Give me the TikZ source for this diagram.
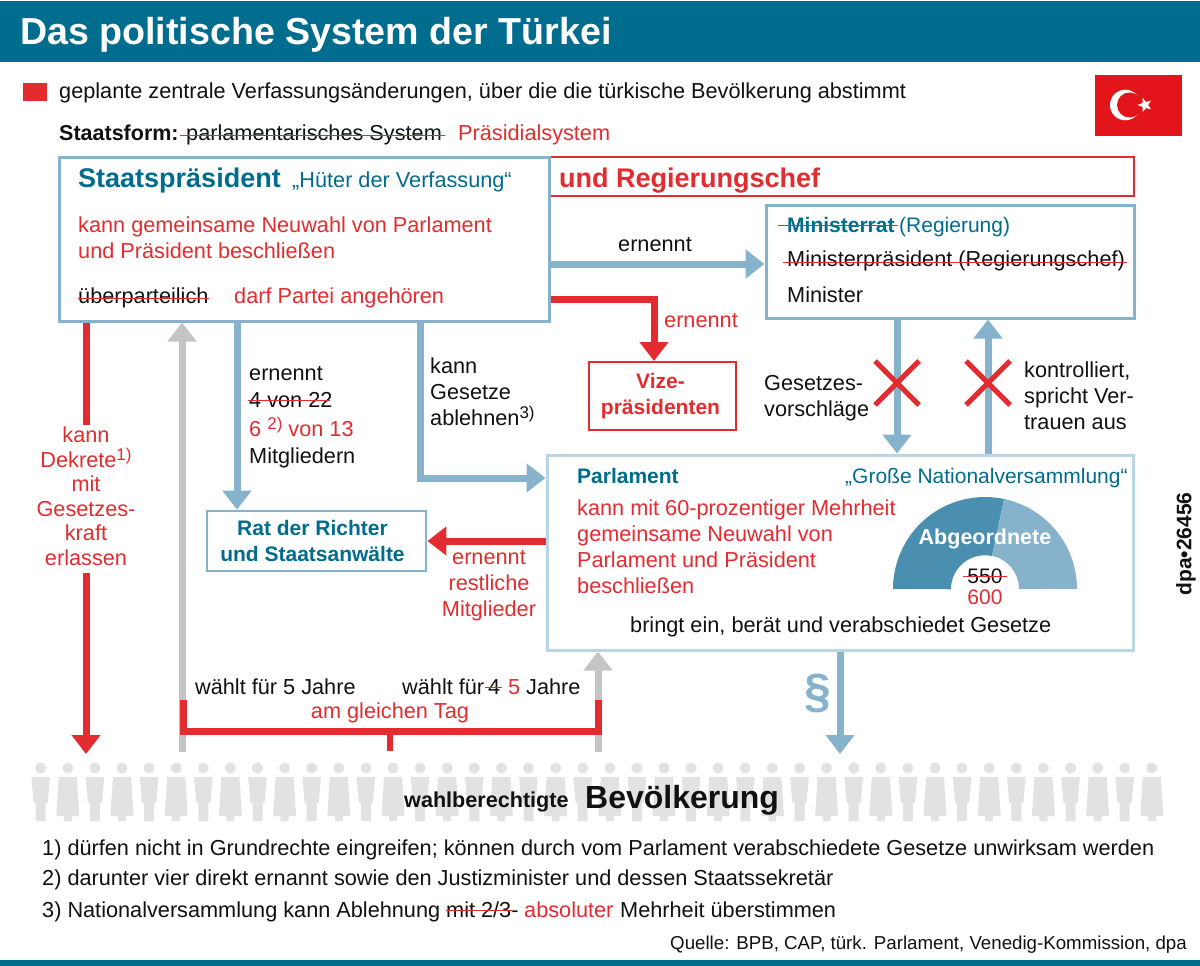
\documentclass[tikz,border=0pt]{standalone}
\usepackage{fontspec}
\setmainfont{Liberation Sans}
\usetikzlibrary{arrows.meta,shapes.geometric}
\definecolor{teal}{HTML}{006C8E}
\definecolor{rd}{HTML}{E32C30}
\definecolor{lb}{HTML}{86B3CB}
\definecolor{llb}{HTML}{B8D6E3}
\definecolor{gr}{HTML}{C4C4C4}
\definecolor{ink}{HTML}{111111}
\definecolor{flagred}{HTML}{E3151A}
\definecolor{domed}{HTML}{4A8FB0}
\definecolor{peop}{HTML}{E2E2E2}
\newcommand{\fsz}[1]{\fontsize{#1}{26}\selectfont}
\newcommand{\supr}[1]{\raisebox{7pt}{\fontsize{17}{17}\selectfont #1}}
\tikzset{
  x=1pt,y=-1pt,
  lab/.style={anchor=base west,inner sep=0pt,text=ink,font=\fsz{21.7}},
  redl/.style={lab,text=rd},
  tealb/.style={lab,text=teal,font=\fsz{21}\bfseries},
  ctr/.style={anchor=base,inner sep=0pt,align=center},
  strike/.style={draw=rd,line width=1.4pt},
  bluebox/.style={draw=lb,line width=3pt,fill=white,inner sep=0pt},
  ar/.style={line width=7pt,-{Triangle[width=28pt,length=19pt]}},
  bluearr/.style={ar,draw=lb},
  redarr/.style={ar,draw=rd},
  grayarr/.style={ar,draw=gr},
  crossm/.style={draw=rd,line width=5pt},
}
\begin{document}
\begin{tikzpicture}
\useasboundingbox (0,0) rectangle (1200,966);
\fill[white] (0,0) rectangle (1200,966);
% bars
\fill[teal] (0,1) rectangle (1200,62);
\fill[teal] (0,960) rectangle (1200,966);
\node[lab,text=white,font=\fsz{37.6}\bfseries] (title) at (20,45) {Das politische System der Türkei};
% legend
\fill[rd] (23,83) rectangle (47,101);
\node[lab] (leg) at (59,99) {geplante zentrale Verfassungsänderungen, über die die türkische Bevölkerung abstimmt};
% flag
\fill[flagred] (1095,75) rectangle (1182,136);
\fill[white] (1125.3,105) circle[radius=15.3];
\fill[flagred] (1129.5,105) circle[radius=12.5];
\node[star,star points=5,star point ratio=2.4,fill=white,inner sep=0pt,minimum size=15pt,shape border rotate=90] (flagstar) at (1145,105) {};
% Staatsform
\node[lab,font=\fsz{21.5}\bfseries] (sf) at (59,140) {Staatsform:};
\node[lab] (parl) at (186,140) {parlamentarisches System};
\draw[strike] ([xshift=-6pt,yshift=-1pt]parl.west) -- ([xshift=3pt,yshift=-1pt]parl.east);
\node[redl] (praes) at (458,140) {Präsidialsystem};
% boxes
\node[draw=rd,line width=1.5pt,fill=white,minimum width=585pt,minimum height=39pt,inner sep=0pt] (rc) at (841.5,176.5) {};
\node[bluebox,minimum width=490pt,minimum height=164pt] (sp) at (304,239) {};
\node[bluebox,minimum width=368pt,minimum height=113pt] (mr) at (950,261.5) {};
\node[draw=rd,line width=2pt,fill=white,minimum width=147pt,minimum height=68pt,inner sep=0pt] (vize) at (662.5,396) {};
\node[draw=llb,line width=3pt,fill=white,minimum width=586pt,minimum height=195pt,inner sep=0pt] (pa) at (840,552.5) {};
\node[draw=lb,line width=2.8pt,fill=white,minimum width=219pt,minimum height=60pt,inner sep=0pt] (rat) at (316.5,541) {};
% Staatspraesident text
\node[lab,text=teal,font=\fsz{27}\bfseries] (spt) at (78,187) {Staatspräsident};
\node[lab,text=teal] (huet) at (292,187) {„Hüter der Verfassung“};
\node[redl] (sp1) at (78,232) {kann gemeinsame Neuwahl von Parlament};
\node[redl] (sp2) at (78,258) {und Präsident beschließen};
\node[lab] (ueb) at (78,303) {überparteilich};
\draw[strike] ([yshift=-1pt]ueb.west) -- ([yshift=-1pt]ueb.east);
\node[redl] (darf) at (234,303) {darf Partei angehören};
\node[lab,text=rd,font=\fsz{27}\bfseries] (urc) at (559,187) {und Regierungschef};
% Ministerrat text
\node[tealb] (mrt) at (787,232) {Ministerrat};
\draw[strike] ([xshift=-9pt,yshift=-1pt]mrt.west) -- ([xshift=3pt,yshift=-1pt]mrt.east);
\node[lab,text=teal,font=\fsz{21}] (reg) at (899,232) {(Regierung)};
\node[lab] (mp) at (787,266) {Ministerpräsident (Regierungschef)};
\draw[strike] ([xshift=-4pt,yshift=-2pt]mp.west) -- ([xshift=2pt,yshift=-2pt]mp.east);
\node[lab] (mi) at (787,302) {Minister};
% Vize
\node[ctr,text=rd,font=\fsz{21}\bfseries,anchor=center] (vt) at ([xshift=-2pt]vize.center) {Vize-\\präsidenten};
% labels
\node[lab] (ern1) at (618,251) {ernennt};
\node[redl] (ern2) at (664,327) {ernennt};
\node[lab,align=left,anchor=west] (gv) at (764,398) {Gesetzes-\\vorschläge};
\node[lab,align=left,anchor=west] (ko) at (1024,396) {kontrolliert,\\spricht Ver-\\trauen aus};
\node[lab] (e3) at (249,380) {ernennt};
\node[lab] (e4) at (249,407) {4 von 22};
\draw[strike] ([xshift=-1pt,yshift=-1pt]e4.west) -- ([xshift=-3pt,yshift=-1pt]e4.east);
\node[redl] (e5) at (249,436) {6 \supr{2)} von 13};
\node[lab] (e6) at (249,463) {Mitgliedern};
\node[lab,align=left,anchor=west] (ge) at (430,392) {kann\\Gesetze\\ablehnen\supr{3)}};
% Dekrete
\node[lab,text=rd,align=center,anchor=center,font=\fontsize{21.7}{24.5}\selectfont] (dk) at (86,496) {kann\\Dekrete\supr{1)}\\mit\\Gesetzes-\\kraft\\erlassen};
% Rat
\node[ctr,text=teal,font=\fsz{21}\bfseries,anchor=center] (ratt) at ([xshift=-4pt]rat.center) {Rat der Richter\\und Staatsanwälte};
\node[ctr,text=rd,font=\fsz{21.7},anchor=center] (rest) at (489,586) {ernennt\\restliche\\Mitglieder};
% Parlament
\node[tealb] (pat) at (577,483) {Parlament};
\node[lab,text=teal,font=\fsz{21}] (gn) at (845,483) {„Große Nationalversammlung“};
\node[lab,text=rd,align=left,anchor=west] (pa1) at (577,547) {kann mit 60-prozentiger Mehrheit\\gemeinsame Neuwahl von\\Parlament und Präsident\\beschließen};
\node[lab] (bg) at (630,632) {bringt ein, berät und verabschiedet Gesetze};
% dome
\fill[domed] (893,589) arc[radius=92,start angle=180,end angle=282] -- (992,556) arc[radius=34,start angle=282,end angle=180] -- cycle;
\fill[lb] (1004.1,499) arc[radius=92,start angle=282,end angle=360] -- (1019,589) arc[radius=34,start angle=360,end angle=282] -- cycle;
\node[ctr,text=white,font=\fsz{21.5}\bfseries] (ab) at (985,544) {Abgeordnete};
\node[ctr,text=ink,font=\fsz{21}] (a550) at (985,583) {550};
\draw[strike] ([xshift=-4pt,yshift=-1pt]a550.west) -- ([xshift=4pt,yshift=-1pt]a550.east);
\node[ctr,text=rd,font=\fsz{21}] (a600) at (985,604) {600};
% arrows
\coordinate (x86) at (86,0);\coordinate (x182) at (182,0);\coordinate (x237) at (237,0);
\coordinate (x420) at (420,0);\coordinate (x654) at (654,0);\coordinate (x897) at (897,0);
\coordinate (x988) at (988,0);\coordinate (x840) at (840,0);\coordinate (x598) at (598,0);
\coordinate (x390) at (390,0);
\coordinate (y264) at (0,264);\coordinate (y299) at (0,299);\coordinate (y478) at (0,478);\coordinate (y541) at (0,541);
\coordinate (ppl) at (0,754);\coordinate (grb) at (0,752);\coordinate (brk) at (0,731);\coordinate (brt) at (0,700);\coordinate (stub) at (0,751);
\draw[bluearr] (sp.east |- y264) -- (mr.west |- y264);
\draw[redarr] (sp.east |- y299) -| (vize.north -| x654);
\draw[line width=7pt,draw=rd] (x86 |- sp.south) -- ([yshift=2pt]x86 |- dk.north);
\draw[redarr] ([yshift=-8pt]x86 |- dk.south) -- (x86 |- ppl);
\draw[grayarr] (x182 |- grb) -- (x182 |- sp.south);
\draw[bluearr] (x237 |- sp.south) -- (x237 |- rat.north);
\draw[bluearr] (x420 |- sp.south) |- (pa.west |- y478);
\draw[bluearr] (x897 |- mr.south) -- (x897 |- pa.north);
\draw[bluearr] (x988 |- pa.north) -- (x988 |- mr.south);
\draw[redarr] (pa.west |- y541) -- (rat.east |- y541);
\draw[bluearr] (x840 |- pa.south) -- (x840 |- ppl);
\draw[grayarr] (x598 |- grb) -- (x598 |- pa.south);
\draw[rd,line width=7pt] (183,700) |- (x598 |- brk) -- (x598 |- brt);
\draw[rd,line width=6pt] (x390 |- brk) -- (x390 |- stub);
\node[lab,text=lb,font=\fontsize{48}{48}\selectfont\bfseries,anchor=center] (para) at (818,693) {§};
% crosses
\draw[crossm] (875,361) -- (919,405);\draw[crossm] (919,361) -- (875,405);
\draw[crossm] (966,361) -- (1010,405);\draw[crossm] (1010,361) -- (966,405);
% vote labels
\node[lab] (w1) at (195,694) {wählt für 5 Jahre};
\node[lab] (w2) at (402,694) {wählt für};
\node[lab] (w3) at (488,694) {4};
\draw[strike] ([xshift=-3pt,yshift=-1pt]w3.west) -- ([xshift=2pt,yshift=-1pt]w3.east);
\node[redl] (w4) at (508,694) {5};
\node[lab] (w5) at (526,694) {Jahre};
\node[ctr,text=rd,font=\fsz{21.7}] (tag) at (390,718) {am gleichen Tag};
% people
\foreach \i in {0,...,41}{
  \pgfmathsetmacro{\cx}{40.7+27.1*\i}
  \pgfmathtruncatemacro{\odd}{mod(\i,2)}
  \fill[peop] (\cx,768) circle[radius=5.5];
  \ifnum\odd=0
    \fill[peop] (\cx-9.3,777) -- (\cx+9.3,777) -- (\cx+7,803) -- (\cx+5,803) -- (\cx+5,821) -- (\cx-5,821) -- (\cx-5,803) -- (\cx-7,803) -- cycle;
  \else
    \fill[peop] (\cx-9,777) -- (\cx+9,777) -- (\cx+11.5,816) -- (\cx+4,816) -- (\cx+4,821) -- (\cx-4,821) -- (\cx-4,816) -- (\cx-11.5,816) -- cycle;
  \fi
}
\node[lab,font=\fsz{21.6}\bfseries] (wb) at (404,807) {wahlberechtigte};
\node[lab,font=\fsz{32}\bfseries] (bv) at (585,808) {Bevölkerung};
% footnotes
\node[lab] (f1) at (42,855) {1) dürfen nicht in Grundrechte eingreifen; können durch vom Parlament verabschiedete Gesetze unwirksam werden};
\node[lab] (f2) at (42,885) {2) darunter vier direkt ernannt sowie den Justizminister und dessen Staatssekretär};
\node[lab] (f3a) at (42,917) {3) Nationalversammlung kann Ablehnung};
\node[lab] (f3b) at (446,917) {mit 2/3-};
\draw[strike] ([yshift=-1pt]f3b.west) -- ([xshift=-7pt,yshift=-1pt]f3b.east);
\node[redl] (f3c) at (524,917) {absoluter};
\node[lab] (f3d) at (620,917) {Mehrheit überstimmen};
\node[lab,anchor=base east,font=\fsz{18.7}] (q) at (1187,949) {Quelle: BPB, CAP, türk. Parlament, Venedig-Kommission, dpa};
\node[lab,anchor=center,rotate=90,font=\fsz{21}\bfseries] (dpa) at (1186,544) {dpa•26456};
\end{tikzpicture}
\end{document}
